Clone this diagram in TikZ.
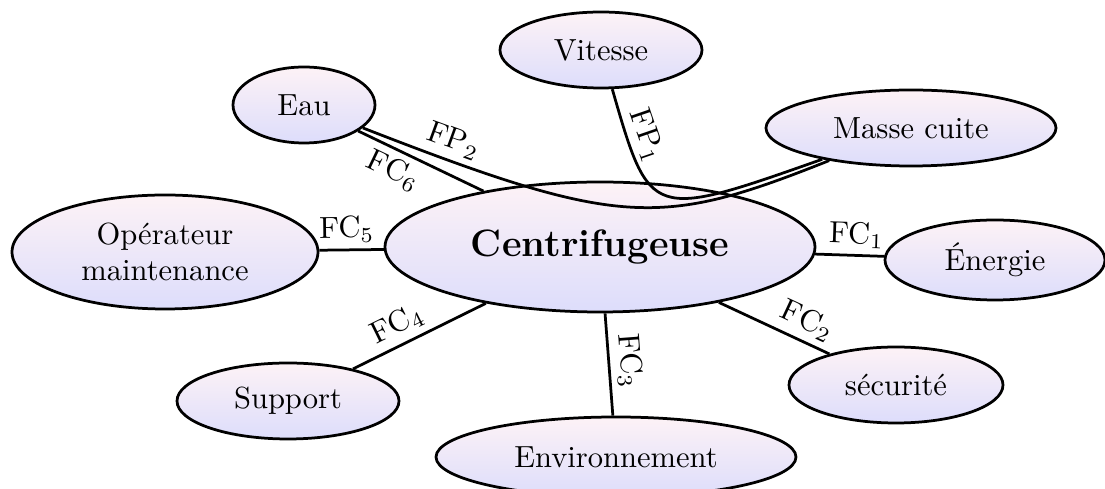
\documentclass[tikz,border=0pt]{standalone}
\usepackage{fontspec}
\usetikzlibrary{shapes.geometric}

\definecolor{bulletop}{RGB}{253,242,246}
\definecolor{bullebot}{RGB}{221,221,251}

\begin{document}
\begin{tikzpicture}[x=0.3273pt,y=-0.3273pt,
  bulle/.style 2 args={ellipse, draw, line width=0.9pt,
    top color=bulletop, bottom color=bullebot,
    minimum width=#1*0.3273pt, minimum height=#2*0.3273pt,
    inner sep=0pt, align=center},
  lien/.style={line width=0.9pt},
  etiq/.style={inner sep=2pt, sloped}]

\useasboundingbox (0,0) rectangle (1105,489);

% central element and the surrounding environment
\node[bulle={430}{130}, font=\fontsize{12.5}{15}\selectfont\bfseries] (cent) at (600,247) {Centrifugeuse};
\node[bulle={202}{76}] (vit)   at (601,50)  {Vitesse};
\node[bulle={290}{76}] (masse) at (911,128) {Masse cuite};
\node[bulle={142}{76}] (eau)   at (304,105) {Eau};
\node[bulle={306}{114}] (oper) at (165,252) {Opérateur\\maintenance};
\node[bulle={220}{80}] (ener)  at (995,260) {Énergie};
\node[bulle={214}{76}] (secu)  at (896,385) {sécurité};
\node[bulle={222}{76}] (supp)  at (288,401) {Support};
\node[bulle={360}{80}] (env)   at (616,457) {Environnement};

% constraint functions
\draw[lien] (cent) -- node[etiq, above, pos=0.59] {FC$_1$} (ener);
\draw[lien] (cent) -- node[etiq, above, pos=0.72] {FC$_2$} (secu);
\draw[lien] (cent) -- node[etiq, above, pos=0.48] {FC$_3$} (env);
\draw[lien] (cent) -- node[etiq, above, pos=0.60] {FC$_4$} (supp);
\draw[lien] (cent) -- node[etiq, above, pos=0.57] {FC$_5$} (oper);
\draw[lien] (eau)  -- node[etiq, below, pos=0.35] {FC$_6$} (cent);

% main functions, passing through the machine
\draw[lien] (vit) .. controls (650,220) ..
  node[etiq, above, pos=0.16, inner sep=1.6pt] {FP$_1$} (masse);
\draw[lien] (eau) .. controls (620,228) and (660,228) ..
  node[etiq, above, pos=0.12] {FP$_2$} (masse);
\end{tikzpicture}
\end{document}
